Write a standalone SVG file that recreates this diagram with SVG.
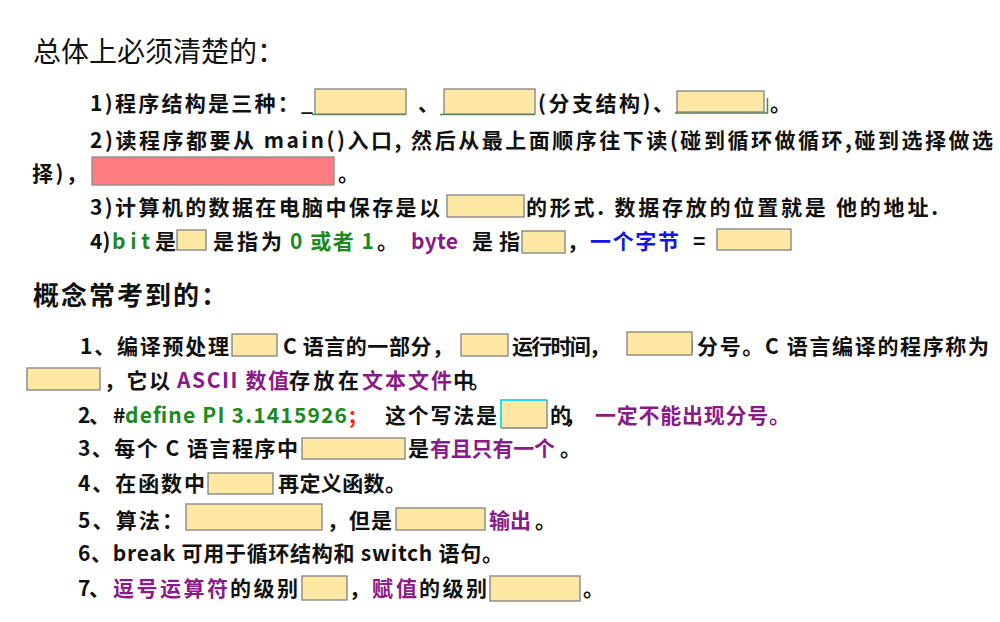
<svg xmlns="http://www.w3.org/2000/svg" width="1000" height="622" viewBox="0 0 1000 622">
<style>
.h1{font-family:"Noto Sans CJK SC","Noto Sans",sans-serif;font-size:28px;fill:#111;}
.h2{font-family:"Noto Sans CJK SC","Noto Sans",sans-serif;font-size:26px;font-weight:bold;fill:#111;letter-spacing:2px;}
.t{font-family:"Noto Sans CJK SC","Noto Sans",sans-serif;font-size:21px;font-weight:bold;fill:#111;}
.g{fill:#1c8a1c;}
.p{fill:#8b1a89;}
.b{fill:#1414e6;}
.r{fill:#ff1a1a;}
.box{fill:#ffe8a4;stroke:#808080;stroke-width:1.3;}
.red{fill:#ff7d80;stroke:#8a8a8a;stroke-width:1.3;}
.mark{stroke:#2a9a2a;stroke-width:1.5;fill:none;}
</style>
<rect width="1000" height="622" fill="#ffffff"/>

<g id="heading1"><text class="h1" x="33" y="62">总体上必须清楚的：</text></g>

<g id="line1">
<path class="mark" d="M312 114.5H406M440 114.5H535M675 113H768M767.5 98V113"/>
<text class="t" x="90" y="111" textLength="223">1)程序结构是三种：_</text>
<rect class="box" x="315" y="89" width="91" height="25"/>
<text class="t" x="418" y="111">、</text>
<rect class="box" x="444" y="89" width="91" height="25"/>
<text class="t" x="538" y="111" textLength="136">(分支结构)、</text>
<rect class="box" x="677" y="91" width="87" height="21"/>
<text class="t" x="770" y="111">。</text>
</g>

<g id="line2">
<text class="t" x="90" y="148" textLength="903">2)读程序都要从 main()入口, 然后从最上面顺序往下读(碰到循环做循环,碰到选择做选</text>
<text class="t" x="32" y="181" textLength="55">择)，</text>
<rect class="red" x="92" y="157" width="242" height="28"/>
<text class="t" x="338" y="181">。</text>
</g>

<g id="line3">
<text class="t" x="90" y="215" textLength="350">3)计算机的数据在电脑中保存是以</text>
<rect class="box" x="447" y="195" width="77" height="22"/>
<text class="t" x="526" y="215" textLength="412">的形式. 数据存放的位置就是 他的地址.</text>
</g>

<g id="line4">
<text class="t" x="90" y="249">4)</text>
<text class="t g" x="112" y="249" textLength="38">bit</text>
<text class="t" x="155" y="249">是</text>
<rect class="box" x="177" y="230" width="29" height="20"/>
<text class="t" x="213" y="249" textLength="69">是指为</text>
<text class="t g" x="290" y="249" textLength="84">0 或者 1</text>
<text class="t" x="377" y="249">。</text>
<text class="t p" x="411" y="249" textLength="47">byte</text>
<text class="t" x="472" y="249" textLength="48">是指</text>
<rect class="box" x="522" y="231" width="43" height="22"/>
<text class="t" x="567" y="249">，</text>
<text class="t b" x="590" y="249" textLength="89">一个字节</text>
<text class="t" x="693" y="249">=</text>
<rect class="box" x="717" y="229" width="74" height="21"/>
</g>

<g id="heading2"><text class="h2" x="33" y="305">概念常考到的：</text></g>

<g id="concept1">
<text class="t" x="80" y="354" textLength="149">1、编译预处理</text>
<rect class="box" x="232" y="334" width="45" height="22"/>
<text class="t" x="283" y="354" textLength="170">C 语言的一部分，</text>
<rect class="box" x="461" y="334" width="47" height="22"/>
<text class="t" x="512" y="354" textLength="98">运行时间，</text>
<path class="mark" d="M692 340V353"/>
<rect class="box" x="627" y="332" width="65" height="23"/>
<text class="t" x="697" y="354" textLength="292">分号。C 语言编译的程序称为</text>
<rect class="box" x="27" y="368" width="73" height="22"/>
<text class="t" x="104" y="388" textLength="66">，它以</text>
<text class="t p" x="177" y="388" textLength="112">ASCII 数值</text>
<text class="t" x="289" y="388" textLength="70">存放在</text>
<text class="t p" x="362" y="388" textLength="90">文本文件</text>
<text class="t" x="453" y="388" textLength="37">中。</text>
</g>

<g id="concept2">
<text class="t" x="78" y="423" textLength="32">2、</text>
<text class="t" x="113" y="423">#</text>
<text class="t g" x="125" y="423" textLength="222">define PI 3.1415926</text>
<text class="t r" x="349" y="423">;</text>
<text class="t" x="385" y="423" textLength="112">这个写法是</text>
<rect x="501" y="400" width="46" height="28" fill="#ffe8a4"/>
<path d="M501 428V400H547" fill="none" stroke="#22e0ee" stroke-width="2"/>
<path d="M547 400V428H501" fill="none" stroke="#808080" stroke-width="1.3"/>
<text class="t" x="550" y="423" textLength="35">的，</text>
<text class="t p" x="595" y="423" textLength="195">一定不能出现分号。</text>
</g>

<g id="concept3">
<text class="t" x="78" y="456" textLength="220">3、每个 C 语言程序中</text>
<rect class="box" x="302" y="438" width="103" height="21"/>
<text class="t" x="408" y="456">是</text>
<text class="t p" x="430" y="456" textLength="125">有且只有一个</text>
<text class="t" x="560" y="456">。</text>
</g>

<g id="concept4">
<text class="t" x="78" y="491" textLength="127">4、在函数中</text>
<rect class="box" x="208" y="473" width="65" height="21"/>
<text class="t" x="278" y="491" textLength="128">再定义函数。</text>
</g>

<g id="concept5">
<text class="t" x="78" y="528" textLength="105">5、算法：</text>
<rect class="box" x="186" y="504" width="136" height="26"/>
<text class="t" x="327" y="528" textLength="65">，但是</text>
<rect class="box" x="396" y="508" width="89" height="22"/>
<text class="t p" x="489" y="528" textLength="42">输出</text>
<text class="t" x="535" y="528">。</text>
</g>

<g id="concept6">
<text class="t" x="78" y="561" textLength="425">6、break 可用于循环结构和 switch 语句。</text>
</g>

<g id="concept7">
<text class="t" x="78" y="596" textLength="32">7、</text>
<text class="t p" x="113" y="596" textLength="115">逗号运算符</text>
<text class="t" x="230" y="596" textLength="68">的级别</text>
<rect class="box" x="302" y="576" width="45" height="24"/>
<text class="t" x="349" y="596">，</text>
<text class="t p" x="372" y="596" textLength="45">赋值</text>
<text class="t" x="419" y="596" textLength="68">的级别</text>
<rect class="box" x="490" y="576" width="90" height="25"/>
<text class="t" x="583" y="596">。</text>
</g>
</svg>
